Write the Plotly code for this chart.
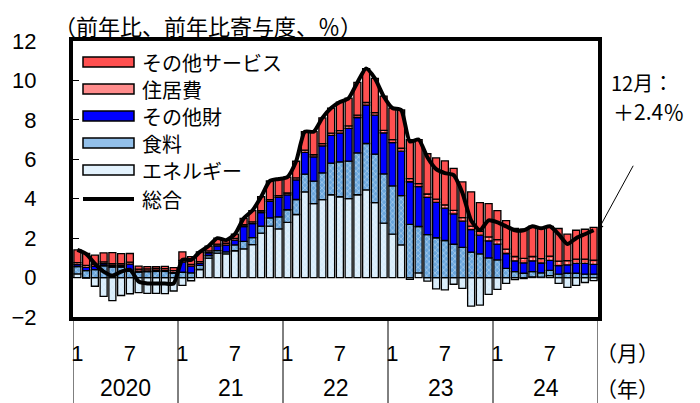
import plotly.graph_objects as go

# monthly, Jan 2020 - Dec 2024
months = [f"{y}-{m:02d}" for y in range(2020, 2025) for m in range(1, 13)]

energy = [0.19, -0.03, -0.44, -0.95, -1.17, -0.91, -0.82, -0.76, -0.80, -0.80, -0.81, -0.68,
          -0.40, -0.16, 0.41, 0.99, 1.24, 1.20, 1.36, 1.46, 1.67, 2.25, 2.61, 2.47,
          2.80, 3.20, 4.35, 3.75, 3.95, 4.20, 4.10, 4.00, 4.20, 4.45, 3.80, 2.76,
          2.20, 1.66, -0.09, 0.24, -0.18, -0.57, -0.62, -0.34, -0.55, -1.45, -1.40, -0.85,
          -0.60, -0.29, -0.10, -0.05, 0.03, 0.02, 0.10, -0.29, -0.50, -0.40, -0.25, -0.15]
food = [0.37, 0.35, 0.40, 0.60, 0.53, 0.53, 0.33, 0.28, 0.30, 0.31, 0.31, 0.22,
        0.27, 0.24, 0.21, 0.13, 0.13, 0.10, 0.30, 0.38, 0.36, 0.36, 0.42, 0.61,
        0.64, 0.76, 0.90, 1.14, 1.36, 1.61, 1.77, 1.91, 2.13, 2.35, 2.46, 2.50,
        2.45, 2.50, 2.70, 2.35, 2.18, 2.02, 1.88, 1.69, 1.53, 1.29, 1.20, 1.00,
        0.90, 0.47, 0.30, 0.22, 0.27, 0.22, 0.27, 0.17, 0.22, 0.22, 0.17, 0.17]
goods = [0.10, 0.17, 0.17, 0.10, 0.07, 0.07, 0.35, 0.05, 0.04, 0.05, 0.04, 0.03,
         0.51, 0.34, 0.10, 0.14, 0.24, 0.35, 0.24, 0.75, 0.71, 0.69, 0.83, 0.99,
         0.75, 1.00, 1.10, 1.23, 1.37, 1.40, 1.46, 1.66, 1.79, 1.95, 1.98, 2.08,
         2.20, 2.25, 2.16, 2.02, 1.89, 1.79, 1.64, 1.54, 1.33, 1.14, 0.95, 0.86,
         0.80, 0.75, 0.55, 0.53, 0.55, 0.50, 0.50, 0.44, 0.42, 0.50, 0.55, 0.50]
housing = [0.10, 0.10, 0.10, 0.10, 0.10, 0.10, 0.10, 0.10, 0.10, 0.10, 0.10, 0.10,
           0.09, 0.09, 0.09, 0.09, 0.09, 0.09, 0.09, 0.09, 0.09, 0.09, 0.09, 0.09,
           0.10, 0.10, 0.11, 0.11, 0.11, 0.12, 0.12, 0.12, 0.12, 0.13, 0.13, 0.13,
           0.15, 0.15, 0.16, 0.16, 0.17, 0.17, 0.17, 0.18, 0.18, 0.18, 0.19, 0.20,
           0.22, 0.22, 0.22, 0.22, 0.22, 0.22, 0.22, 0.22, 0.22, 0.22, 0.22, 0.22]
other_services = [0.64, 0.61, 0.47, 0.45, 0.57, 0.51, 0.44, 0.15, 0.12, 0.10, 0.12, 0.15,
                  0.43, 0.39, 0.49, 0.25, 0.30, 0.16, 0.21, 0.32, 0.57, 0.71, 0.95, 0.84,
                  0.81, 0.84, 0.94, 1.17, 1.31, 1.27, 1.45, 1.41, 1.66, 1.72, 1.73, 1.73,
                  1.60, 1.94, 1.97, 2.23, 2.04, 2.09, 2.23, 2.13, 1.81, 1.74, 1.46, 1.69,
                  1.48, 1.45, 1.43, 1.48, 1.53, 1.54, 1.51, 1.66, 1.34, 1.46, 1.51, 1.66]
total = [1.4, 1.2, 0.7, 0.3, 0.1, 0.3, 0.4, -0.2, -0.3, -0.3, -0.3, -0.3,
         0.9, 0.9, 1.3, 1.6, 2.0, 1.9, 2.2, 3.0, 3.4, 4.1, 4.9, 5.0,
         5.1, 5.9, 7.4, 7.4, 8.1, 8.6, 8.9, 9.1, 9.9, 10.6, 10.1, 9.2,
         8.6, 8.5, 6.9, 7.0, 6.1, 5.5, 5.3, 5.2, 4.3, 2.9, 2.4, 2.9,
         2.8, 2.6, 2.4, 2.4, 2.6, 2.5, 2.6, 2.2, 1.7, 2.0, 2.2, 2.4]

years = ["2020", "21", "22", "23", "24"]
month_ticks = ["1", "7"]

JP = "Noto Sans CJK JP"
NUM = "Liberation Sans"

RED = "#ff5050"
BLUE = "#0000ff"
FOOD = "#6aa6dc"
ENERGY = "#d6ecfb"

fig = go.Figure()

bar_line = dict(color="black", width=1.3)
fig.add_trace(go.Bar(x=months, y=energy, name="エネルギー",
                     marker=dict(color=ENERGY, line=bar_line,
                                 pattern=dict(shape="x", bgcolor=ENERGY, fgcolor="white",
                                              size=4, solidity=0.25, fillmode="overlay"))))
fig.add_trace(go.Bar(x=months, y=food, name="食料",
                     marker=dict(color=FOOD, line=bar_line,
                                 pattern=dict(shape="x", bgcolor=FOOD, fgcolor="#e3effa",
                                              size=4, solidity=0.35, fillmode="overlay"))))
fig.add_trace(go.Bar(x=months, y=goods, name="その他財",
                     marker=dict(color=BLUE, line=bar_line)))
fig.add_trace(go.Bar(x=months, y=housing, name="住居費",
                     marker=dict(color=RED, line=bar_line,
                                 pattern=dict(shape=".", bgcolor=RED, fgcolor="white",
                                              size=4, solidity=0.35, fillmode="overlay"))))
fig.add_trace(go.Bar(x=months, y=other_services, name="その他サービス",
                     marker=dict(color=RED, line=bar_line)))
fig.add_trace(go.Scatter(x=months, y=total, name="総合", mode="lines",
                         line=dict(color="black", width=4, shape="spline", smoothing=0.6)))

# x tick labels: "1" and "7" each year
tickvals = [m for m in months if m[-2:] in ("01", "07")]
ticktext = [month_ticks[0] if m[-2:] == "01" else month_ticks[1] for m in tickvals]

# page offset of 8px (body margin); plot area sits at 73..598 x 41..317 on the page
def px_x(p):
    return (p - 73) / 525

def px_y(p):
    return (317 - p) / 276

shapes = []
# year separators below the frame
for k in range(len(years) + 1):
    shapes.append(dict(type="line", xref="x", yref="paper", x0=12 * k - 0.5, x1=12 * k - 0.5,
                       y0=px_y(405), y1=0, line=dict(color="black", width=1)))

annotations = []
for k, yr in enumerate(years):
    annotations.append(dict(text=yr, xref="x", yref="paper", x=12 * k + 5.5, y=px_y(388),
                            yanchor="middle", showarrow=False,
                            font=dict(family=NUM, size=23, color="black")))

annotations += [
    dict(text="（前年比、前年比寄与度、％）", xref="paper", yref="paper", x=px_x(52), y=px_y(25),
         xanchor="left", yanchor="middle", showarrow=False,
         font=dict(family=JP, size=22, color="black")),
    dict(text="（月）", xref="paper", yref="paper", x=px_x(594), y=px_y(352), xanchor="left",
         yanchor="middle", showarrow=False, font=dict(family=JP, size=21, color="black")),
    dict(text="（年）", xref="paper", yref="paper", x=px_x(594), y=px_y(388), xanchor="left",
         yanchor="middle", showarrow=False, font=dict(family=JP, size=21, color="black")),
    dict(text="12月：", xref="paper", yref="paper", x=px_x(609), y=px_y(82), xanchor="left",
         yanchor="middle", showarrow=False, font=dict(family=JP, size=20, color="black")),
    dict(text="＋2.4％", xref="paper", yref="paper", x=px_x(611), y=px_y(111), xanchor="left",
         yanchor="middle", showarrow=False, font=dict(family=JP, size=21, color="black")),
    dict(text="", xref="x", yref="y", x=59.5, y=total[-1], ax=36, ay=-66,
         showarrow=True, arrowhead=2, arrowsize=1.2, arrowwidth=1, arrowcolor="black"),
]

# hand-drawn legend, top left inside the frame
legend_rows = [("その他サービス", dict(fillcolor=RED)),
               ("住居費", dict(fillcolor="#ff8c8c")),
               ("その他財", dict(fillcolor=BLUE)),
               ("食料", dict(fillcolor="#93c0ea")),
               ("エネルギー", dict(fillcolor="#e3f2fd")),
               ("総合", None)]
row_y = [62, 89, 116, 143, 170, 199]
for (label, fill), yy in zip(legend_rows, row_y):
    if fill is None:
        shapes.append(dict(type="line", xref="paper", yref="paper", x0=px_x(83), x1=px_x(134),
                           y0=px_y(yy), y1=px_y(yy), line=dict(color="black", width=4)))
    else:
        shapes.append(dict(type="rect", xref="paper", yref="paper", x0=px_x(83), x1=px_x(134),
                           y0=px_y(yy + 5), y1=px_y(yy - 5), line=dict(color="black", width=1.5),
                           **fill))
    annotations.append(dict(text=label, xref="paper", yref="paper", x=px_x(140), y=px_y(yy),
                            xanchor="left", yanchor="middle", showarrow=False,
                            font=dict(family=JP, size=20, color="black")))

fig.update_layout(
    width=700, height=403,
    margin=dict(l=65, r=110, t=33, b=94),
    paper_bgcolor="white", plot_bgcolor="white",
    barmode="relative", bargap=0.2,
    showlegend=False,
    shapes=shapes, annotations=annotations,
    xaxis=dict(type="category", range=[-0.5, 59.5], tickvals=tickvals, ticktext=ticktext,
               ticks="", showgrid=False, showline=True, linecolor="black", linewidth=4,
               mirror=True, tickfont=dict(family=NUM, size=22, color="black"),
               ticklabelstandoff=14, automargin=False),
    yaxis=dict(range=[-2, 12], tickvals=list(range(-2, 13, 2)), ticks="inside", ticklen=6,
               tickcolor="black", showgrid=False, zeroline=False, showline=True,
               linecolor="black", linewidth=4, mirror=True, automargin=False,
               tickfont=dict(family=NUM, size=22, color="black"), ticklabelstandoff=28),
)

fig.write_html("out.html")
